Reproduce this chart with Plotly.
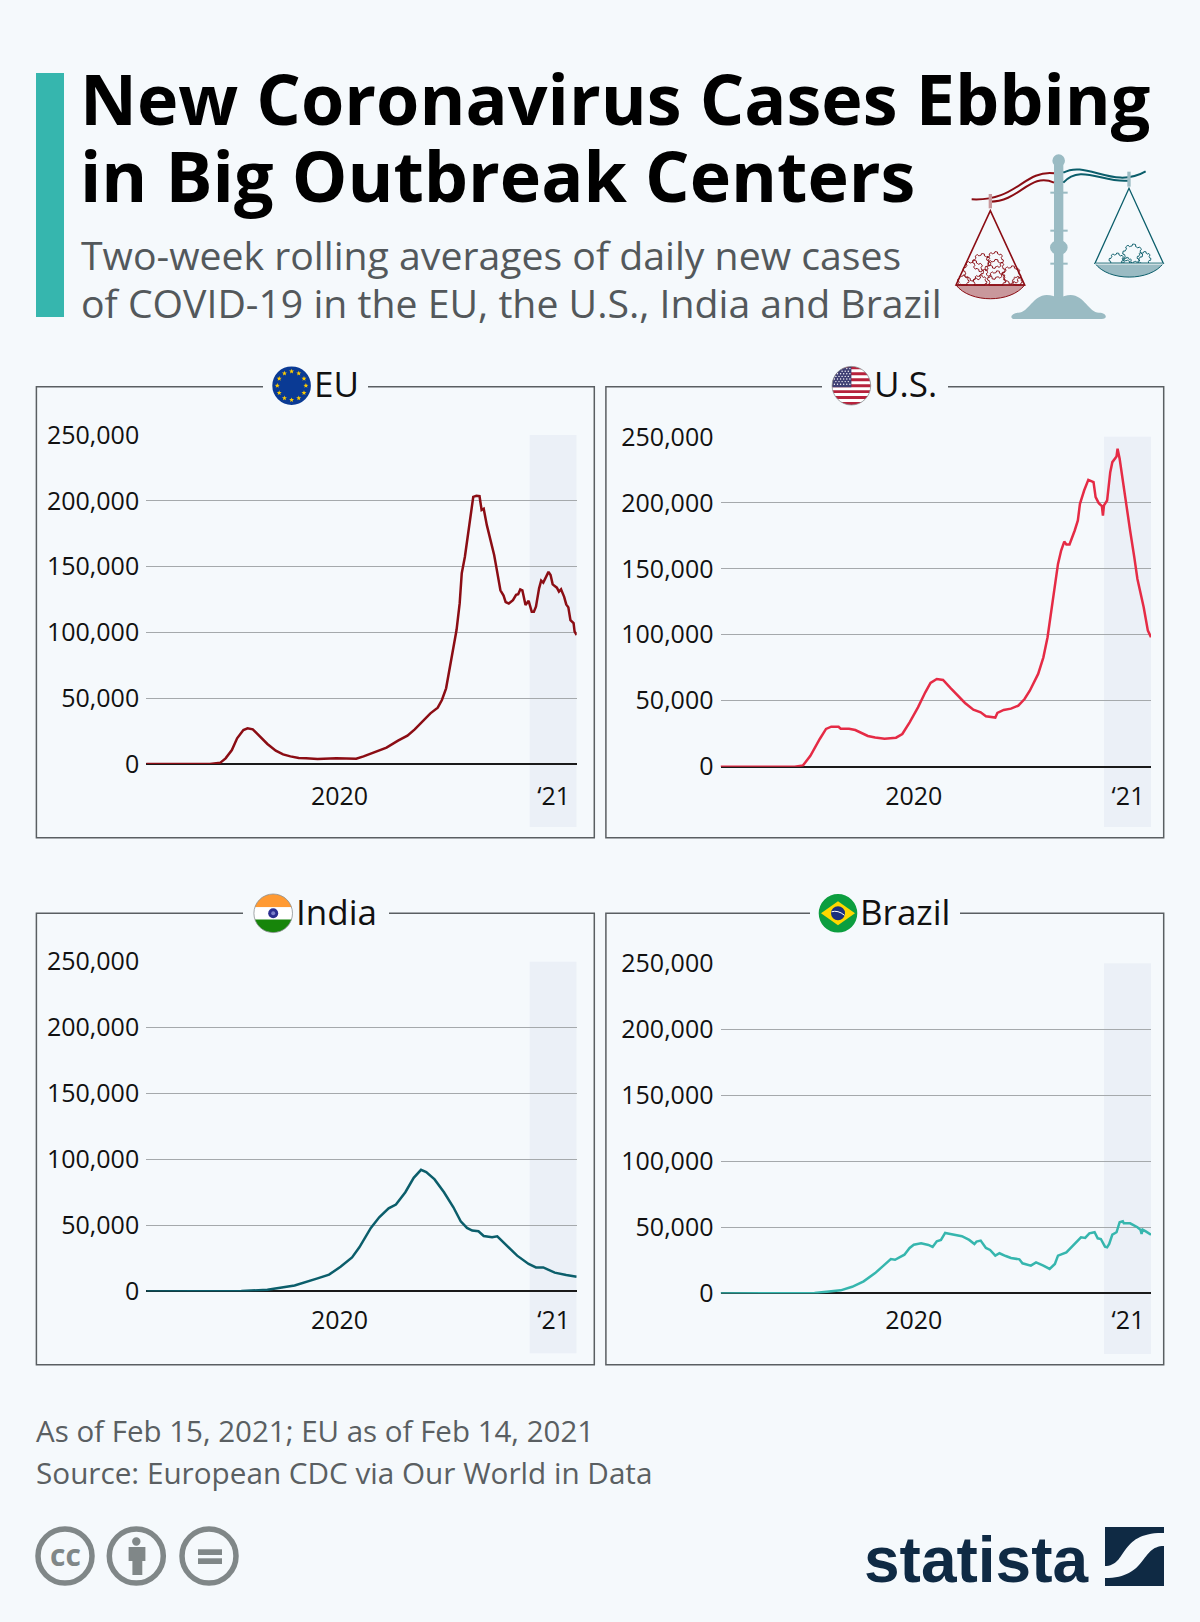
import math
import pandas as pd
import plotly.graph_objects as go

# ---------- data (days since 2019-12-31, daily new cases, 14-day rolling) ----------
eu_days = [0,61,71,76,82,87,93,97,102,109,116,124,131,138,146,153,164,182,201,208,219,230,241,250,257,265,272,279,283,287,290,294,297,300,302,305,309,313,316,319,321,323,326,329,333,335,337,339,342,344,347,351,354,356,358,360,363,366,369,371,373,376,378,380,385,387,389,393,395,397,400,402,404,406,409,410,412]
eu_vals = [0,0,1000,4300,10600,19500,25800,27100,26300,20800,15200,10100,7300,5800,4600,4300,3800,4300,4000,5800,8900,12400,17700,21500,26300,32700,38500,42800,48600,57500,71400,87900,101800,122000,145000,157500,180000,203000,203800,203500,193000,194000,181500,172700,158800,150000,140000,132000,128000,123000,122000,124500,128500,129000,132700,132000,120800,124000,115700,115700,119500,133500,139300,137800,146000,143600,136500,134000,131000,132700,127000,121300,119000,109400,107000,100600,98000]
us_days = [0,71,79,86,95,101,106,113,115,123,129,134,141,148,157,168,174,181,189,196,201,207,213,220,227,234,242,249,254,263,265,271,278,285,291,296,304,309,313,317,320,323,326,329,331,334,339,342,344,348,352,357,359,362,365,366,367,370,373,375,379,380,382,384,388,392,396,399,405,409,412]
us_vals = [0,0,1000,8300,21000,28600,30300,30300,28800,28800,27800,25800,23300,22200,21200,22000,24800,33600,45000,56400,63500,66500,65700,59700,53800,48300,43200,41200,38200,37200,40700,43000,44000,46300,51300,57600,70300,82900,98100,120800,136000,153700,163800,170600,168400,168400,179000,186600,199200,209300,217400,215600,204300,199700,197400,190300,198000,201700,223200,230800,235100,241000,233300,222000,199200,179000,158800,142300,120800,103100,98100]
india_days = [0,91,116,142,164,175,186,197,204,215,223,232,239,248,256,263,268,276,285,294,301,307,312,318,323,331,336,345,355,366,373,380,391,402,412]
india_vals = [0,250,1200,4500,9900,12700,18700,25800,33400,48100,56200,63000,65900,75200,86100,92200,90400,84900,75200,63800,53200,48100,46100,45600,42000,41000,41800,34700,27100,20800,18200,18200,14200,12400,11100]
brazil_days = [0,90,115,126,137,148,156,163,167,176,181,185,192,199,203,207,211,215,220,231,238,243,245,249,254,258,263,267,273,278,286,289,297,302,309,315,320,323,331,339,345,349,353,358,361,364,368,370,372,375,379,382,385,386,392,399,402,403,404,407,412]
brazil_vals = [0,250,2300,5000,9100,15400,21000,26000,25500,29300,34400,36900,37900,36700,35200,39500,40500,45800,45000,43300,40500,37400,39200,40000,34400,32900,28600,30400,28300,26800,25800,22800,21000,23500,21000,18500,22300,28600,31100,37400,42500,42000,45500,46300,41700,41200,35400,34900,37400,44500,46300,53900,54600,53100,53100,50100,48100,45000,48300,47000,44500]

y_ticks = [0, 50000, 100000, 150000, 200000, 250000]
x_ticks = ["2020-07-03", "2021-01-24"]
x_tick_labels = ["2020", "‘21"]

title_lines = ["New Coronavirus Cases Ebbing", "in Big Outbreak Centers"]
subtitle_lines = ["Two-week rolling averages of daily new cases", "of COVID-19 in the EU, the U.S., India and Brazil"]
footer_lines = ["As of Feb 15, 2021; EU as of Feb 14, 2021", "Source: European CDC via Our World in Data"]

# ---------- style ----------
W, H = 1200, 1622
BG = "#F5F9FC"
FONT = "Open Sans"
RED, CRIM, TEAL, AQUA = "#8B0D14", "#E52B45", "#0B5E6B", "#36B6AE"
STEEL = "#9ABBC3"

def X(p): return p / W
def Y(p): return 1 - p / H

shapes, annotations = [], []

def path(cmds, **kw):
    parts = []
    for c in cmds:
        op, nums = c[0], c[1:]
        coords = [f"{X(nums[i]):.5f},{Y(nums[i+1]):.5f}" for i in range(0, len(nums), 2)]
        parts.append(op + " ".join(coords))
    shapes.append(dict(type="path", xref="paper", yref="paper", path=" ".join(parts), **kw))

def poly(pts, fill=None, line=None, lw=1, close=True):
    cmds = [("M", *pts[0])] + [("L", *p) for p in pts[1:]]
    if close:
        cmds.append(("Z",))
    kw = dict(line=dict(color=line or "rgba(0,0,0,0)", width=lw if line else 0))
    if fill:
        kw["fillcolor"] = fill
    path(cmds, **kw)

def rect(x0, y0, x1, y1, fill):
    shapes.append(dict(type="rect", xref="paper", yref="paper", x0=X(x0), x1=X(x1), y0=Y(y0), y1=Y(y1),
                       fillcolor=fill, line=dict(width=0)))

def circle(cx, cy, r, fill=None, line=None, lw=1):
    shapes.append(dict(type="circle", xref="paper", yref="paper", x0=X(cx-r), x1=X(cx+r), y0=Y(cy-r), y1=Y(cy+r),
                       fillcolor=fill or "rgba(0,0,0,0)", line=dict(color=line or "rgba(0,0,0,0)", width=lw if line else 0)))

def seg(x0, y0, x1, y1, color, lw):
    shapes.append(dict(type="line", xref="paper", yref="paper", x0=X(x0), x1=X(x1), y0=Y(y0), y1=Y(y1),
                       line=dict(color=color, width=lw)))

def text(x, y, s, size, color="#000000", anchor="left", bold=False, family=FONT):
    annotations.append(dict(xref="paper", yref="paper", x=X(x), y=Y(y), text=f"<b>{s}</b>" if bold else s,
                            showarrow=False, xanchor=anchor, yanchor="middle", align=anchor,
                            borderpad=0, font=dict(family=family, size=size, color=color)))

def band(cx, cy, r, y0, y1, fill, xmax=None):
    n = 12
    ys = [y0 + (y1 - y0) * i / n for i in range(n + 1)]
    half = [math.sqrt(max(r*r - (v - cy)**2, 0)) for v in ys]
    right = [(cx + h if xmax is None else min(cx + h, xmax), v) for h, v in zip(half, ys)]
    left = [(cx - h, v) for h, v in zip(half, ys)]
    poly(right + left[::-1], fill=fill)

def star(cx, cy, r, fill):
    pts = []
    for i in range(10):
        a = -math.pi / 2 + i * math.pi / 5
        q = r if i % 2 == 0 else r * 0.42
        pts.append((cx + q * math.cos(a), cy + q * math.sin(a)))
    poly(pts, fill=fill)

# ---------- panels ----------
panels = [
    dict(name="EU", days=eu_days, vals=eu_vals, color=RED, fx=(36.4, 594.3), fy=(386.7, 837.7), px=(146.2, 576.7),
         top=435.0, zero=764.0, band=827.0, gap=(263, 368), flag=(291.6, 385.7), lab=312.5, stand=15),
    dict(name="U.S.", days=us_days, vals=us_vals, color=CRIM, fx=(605.9, 1163.7), fy=(386.7, 837.7), px=(720.5, 1151.0),
         top=436.8, zero=766.7, band=827.0, gap=(822, 948), flag=(851.4, 385.7), lab=872.5, stand=12),
    dict(name="India", days=india_days, vals=india_vals, color=TEAL, fx=(36.4, 594.3), fy=(913.3, 1364.7), px=(146.2, 576.7),
         top=961.7, zero=1291.4, band=1353.3, gap=(243, 389), flag=(273.2, 913.3), lab=295, stand=12),
    dict(name="Brazil", days=brazil_days, vals=brazil_vals, color=AQUA, fx=(605.9, 1163.7), fy=(913.3, 1364.7), px=(720.5, 1151.0),
         top=963.3, zero=1293.4, band=1354.0, gap=(810, 960), flag=(838.0, 913.3), lab=859, stand=10),
]

START = pd.Timestamp("2019-12-31")
END = pd.Timestamp("2021-02-15")
fig = go.Figure()
layout_axes = {}
for i, p in enumerate(panels, start=1):
    xn, yn = f"x{i}", f"y{i}"
    dates = START + pd.to_timedelta(p["days"], unit="D")
    fig.add_trace(go.Scatter(x=dates, y=p["vals"], mode="lines", xaxis=xn, yaxis=yn, cliponaxis=False,
                             line=dict(color=p["color"], width=2.5), hoverinfo="skip", showlegend=False))
    layout_axes[f"xaxis{i}"] = dict(domain=[X(p["px"][0]), X(p["px"][1])], anchor=yn, type="date",
                                    range=[START, END], showgrid=False, zeroline=False, showline=False,
                                    tickmode="array", tickvals=x_ticks, ticktext=x_tick_labels, ticks="",
                                    ticklabelstandoff=p["stand"], tickfont=dict(family=FONT, size=25, color="#111111"))
    layout_axes[f"yaxis{i}"] = dict(domain=[Y(p["zero"]), Y(p["top"])], anchor=xn, range=[0, 250000],
                                    tickmode="array", tickvals=y_ticks, tickformat=",", ticks="",
                                    ticklabelstandoff=6, showline=False, gridcolor="#A5A9AC", gridwidth=1.3,
                                    zeroline=True, zerolinecolor="#1A1A1A", zerolinewidth=2,
                                    tickfont=dict(family=FONT, size=25, color="#111111"))
    shapes.append(dict(type="rect", xref=xn, yref="paper", x0="2021-01-01", x1=END, y0=Y(p["band"]), y1=Y(p["top"]),
                       fillcolor="#EBF0F7", line=dict(width=0), layer="below"))
    fx0, fx1 = p["fx"]; fy0, fy1 = p["fy"]; g0, g1 = p["gap"]
    poly([(g0, fy0), (fx0, fy0), (fx0, fy1), (fx1, fy1), (fx1, fy0), (g1, fy0)], line="#5A5F62", lw=1.5, close=False)
    text(p["lab"], p["flag"][1] - 2, p["name"], 35, "#111111")

# ---------- flags ----------
R = 19.3
cx, cy = panels[0]["flag"]
circle(cx, cy, R, fill="#0A3A94")
for k in range(12):
    a = k * math.pi / 6
    star(cx + 14.3 * math.cos(a), cy + 14.3 * math.sin(a), 2.6, "#FFCC00")
cx, cy = panels[1]["flag"]
circle(cx, cy, R, fill="#FFFFFF")
h = 2 * R / 13
for k in range(13):
    if k % 2 == 0:
        band(cx, cy, R, cy - R + k * h, cy - R + (k + 1) * h, "#B7223C")
band(cx, cy, R, cy - R, cy - R + 7 * h, "#3F3F74", xmax=cx)
for row in range(7):
    for col in range(6):
        sx = cx - 17 + col * 3.1 + (row % 2) * 1.5
        sy = cy - R + 2.2 + row * 2.6
        if (sx - cx) ** 2 + (sy - cy) ** 2 < (R - 1) ** 2 and sx < cx - 0.8:
            circle(sx, sy, 0.7, fill="#FFFFFF")
circle(cx, cy, R, line="#8A8F92", lw=0.8)
cx, cy = panels[2]["flag"]
band(cx, cy, R, cy - R, cy - R / 3 * 0.95, "#FF9A33")
band(cx, cy, R, cy - R / 3 * 0.95, cy + R / 3 * 0.95, "#FFFFFF")
band(cx, cy, R, cy + R / 3 * 0.95, cy + R, "#17850A")
circle(cx, cy, 5, fill="#2B2F8F")
circle(cx, cy, 2, fill="#7A7FC8")
circle(cx, cy, R, line="#8A8F92", lw=0.8)
cx, cy = panels[3]["flag"]
circle(cx, cy, R, fill="#0C9E3F")
poly([(cx - 17, cy), (cx, cy - 12), (cx + 17, cy), (cx, cy + 12)], fill="#FFD800")
circle(cx, cy, 7, fill="#1B2F7E")
path([("M", cx - 6.5, cy - 1.5), ("Q", cx, cy - 3.5, cx + 6.5, cy + 2)], line=dict(color="#FFFFFF", width=1))

# ---------- header ----------
rect(36, 73, 64, 317, AQUA)
text(78.5, 97.5, title_lines[0], 70, "#000000", bold=True)
text(78.5, 174.5, title_lines[1], 70, "#000000", bold=True)
text(80, 254.5, subtitle_lines[0], 39.2, "#53585B")
text(80, 302, subtitle_lines[1], 39.2, "#53585B")

# ---------- balance icon ----------
def z(a, b): return (940 + a / 3, 140 + b / 3)
def zc(*v):
    out = []
    for i in range(0, len(v), 2):
        out += list(z(v[i], v[i + 1]))
    return out

def gear(ca, cb, r, clip, n=8, color=RED):
    pts = []
    for k in range(n * 8):
        a = 2 * math.pi * k / (n * 8)
        q = r * (1.14 if (k % 8) < 4 else 0.92)
        pts.append(z(ca + q * math.cos(a), min(cb + q * math.sin(a), clip)))
    poly(pts, line=color, lw=1)

poly([z(342, 60), z(370, 60), z(370, 475), z(342, 475)], fill=STEEL)
circle(*z(356, 62), 6.3, fill=STEEL)
shapes.append(dict(type="circle", xref="paper", yref="paper",
                   x0=X(z(330, 0)[0]), x1=X(z(383, 0)[0]), y0=Y(z(0, 300)[1]), y1=Y(z(0, 345)[1]),
                   fillcolor=STEEL, line=dict(width=0)))
for b in (158, 272, 371):
    poly([z(331, b - 3), z(383, b - 3), z(383, b + 3), z(331, b + 3)], fill=STEEL)
path([("M", *z(225, 537)), ("C", *zc(205, 537, 215, 518, 235, 518)), ("C", *zc(265, 518, 280, 465, 320, 465)),
      ("C", *zc(335, 465, 345, 470, 356, 474)), ("C", *zc(367, 470, 380, 465, 392, 465)),
      ("C", *zc(432, 465, 447, 518, 477, 518)), ("C", *zc(500, 518, 505, 537, 485, 537)), ("Z",)],
     fillcolor=STEEL, line=dict(width=0))
path([("M", *z(342, 100)), ("C", *zc(250, 90, 230, 185, 95, 178))], line=dict(color=RED, width=2))
path([("M", *z(342, 128)), ("C", *zc(270, 95, 240, 185, 150, 185))], line=dict(color=RED, width=2))
path([("M", *z(370, 98)), ("C", *zc(440, 60, 520, 150, 617, 94))], line=dict(color=TEAL, width=2))
path([("M", *z(370, 128)), ("C", *zc(420, 70, 490, 130, 565, 122))], line=dict(color=TEAL, width=2))
poly([z(146, 162), z(156, 162), z(156, 205), z(146, 205)], fill="#C9989C")
path([("M", *z(48, 435)), ("C", *zc(90, 490, 212, 490, 254, 435)), ("Z",)], fillcolor="#C9989C", line=dict(color=RED, width=1))
poly([z(48, 435), z(151, 212), z(254, 435)], line=RED, lw=1.6)
for g in [(100, 392, 27), (165, 388, 26), (125, 368, 24), (165, 360, 22), (170, 420, 24), (120, 425, 18), (215, 405, 24), (70, 422, 15), (232, 424, 13)]:
    gear(g[0], g[1], g[2], 435)
poly([z(562, 95), z(572, 95), z(572, 140), z(562, 140)], fill=STEEL)
path([("M", *z(465, 370)), ("C", *zc(505, 425, 630, 425, 670, 370)), ("Z",)], fillcolor=STEEL, line=dict(color=TEAL, width=1))
poly([z(465, 370), z(567, 145), z(670, 370)], line=TEAL, lw=1.3)
for g in [(530, 362, 20), (578, 342, 26), (612, 355, 18), (560, 368, 14)]:
    gear(g[0], g[1], g[2], 370, color=TEAL)
seg(*z(465, 372), *z(670, 372), "#FFFFFF", 1)

# ---------- footer ----------
text(35, 1430, footer_lines[0], 29.5, "#5A5F62")
text(35, 1472, footer_lines[1], 29.7, "#5A5F62")

GREY = "#808788"
for c in (65, 136.3, 209):
    circle(c, 1556, 27, line=GREY, lw=5.5)
text(65, 1554, "cc", 30, GREY, anchor="center", bold=True)
circle(136.3, 1541.5, 4.2, fill=GREY)
rect(128.6, 1547, 145.4, 1561, GREY)
rect(132.4, 1561, 142.3, 1575, GREY)
rect(198, 1549.3, 222, 1555, GREY)
rect(198, 1558.3, 222, 1564, GREY)

NAVY = "#0F2A44"
text(863, 1560, "statista", 64, NAVY, bold=True, family="Liberation Sans")
rect(1105, 1527, 1164, 1586, NAVY)
path([("M", 1105, 1566), ("C", 1128, 1566, 1118, 1532, 1164, 1533), ("L", 1164, 1546),
      ("C", 1140, 1546, 1148, 1578, 1105, 1578), ("Z",)], fillcolor=BG, line=dict(width=0))

fig.update_layout(width=W, height=H, autosize=False, margin=dict(l=0, r=0, t=0, b=0, autoexpand=False),
                  paper_bgcolor=BG, plot_bgcolor="rgba(0,0,0,0)", showlegend=False,
                  shapes=shapes, annotations=annotations, **layout_axes)

fig.write_html("out.html", post_script="document.body.style.margin='0';document.body.style.background='%s';" % BG,
               config={"displayModeBar": False})
